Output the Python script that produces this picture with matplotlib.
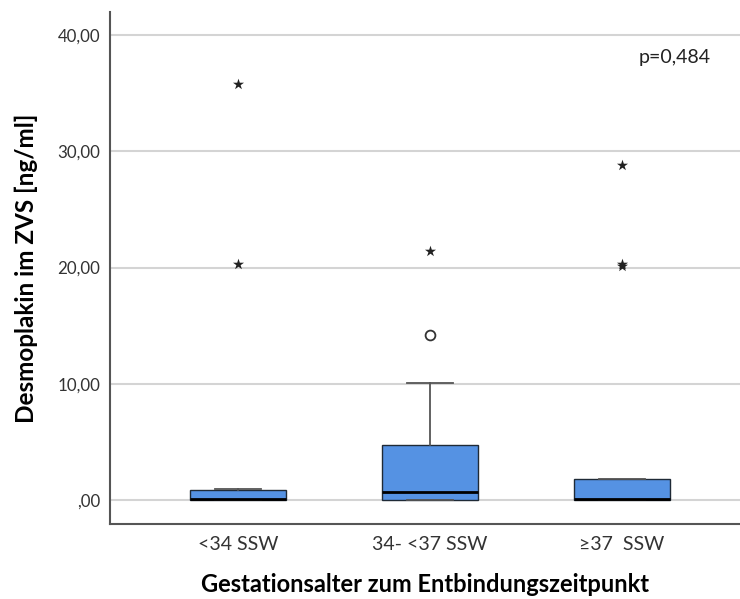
import matplotlib
matplotlib.use("Agg")
import matplotlib.pyplot as plt

plt.rcParams['font.family'] = ['Lato', 'DejaVu Sans']

# Gruppen und Boxplot-Kennwerte
groups = ['<34 SSW', '34- <37 SSW', '≥37  SSW']
q1 = [0.0, 0.0, 0.0]
median = [0.05, 0.7, 0.05]
q3 = [0.85, 4.75, 1.8]
whislo = [0.0, 0.0, 0.0]
whishi = [0.95, 10.05, 1.85]

# Ausreisser: Sterne = extreme Werte, Kreise = milde Ausreisser
extreme = [[35.8, 20.3], [21.4], [28.8, 20.1, 20.3]]
mild = [[], [14.2], []]

yticks = [0, 10, 20, 30, 40]
ytick_labels = [',00', '10,00', '20,00', '30,00', '40,00']

fig = plt.figure(figsize=(7.40, 5.99), dpi=100)
ax = fig.add_axes([110 / 740, 1 - 524 / 599, 1 - 110 / 740, (524 - 12) / 599])

stats = []
for i in range(len(groups)):
    stats.append({'label': groups[i], 'q1': q1[i], 'med': median[i], 'q3': q3[i],
                  'whislo': whislo[i], 'whishi': whishi[i], 'fliers': []})

ax.bxp(stats, positions=[1, 2, 3], widths=0.5, patch_artist=True, showfliers=False,
       boxprops=dict(facecolor='#5592e3', edgecolor='#1f2a36', linewidth=1.0),
       medianprops=dict(color='black', linewidth=2.0),
       whiskerprops=dict(color='#555555', linewidth=1.3),
       capprops=dict(color='#555555', linewidth=1.3),
       capwidths=0.24, zorder=3)

for i in range(len(groups)):
    if extreme[i]:
        ax.scatter([i + 1] * len(extreme[i]), extreme[i], marker='*', s=70,
                   color='#222222', linewidths=0, zorder=4)
    if mild[i]:
        ax.scatter([i + 1] * len(mild[i]), mild[i], marker='o', s=50,
                   facecolor='white', edgecolor='#333333', linewidths=1.3, zorder=4)

ax.set_xlim(1 - 128 / 192, 3 + 118 / 192)
ax.set_ylim(-2.06, 41.98)
ax.set_yticks(yticks)
ax.set_yticklabels(ytick_labels)
ax.yaxis.grid(True, color='#d4d4d4', linewidth=1.5, zorder=0)
ax.set_axisbelow(True)
ax.tick_params(axis='both', length=0, labelsize=12.2, colors='#333333')
ax.tick_params(axis='y', pad=7)
ax.tick_params(axis='x', pad=9, labelsize=14)

for s in ['top', 'right']:
    ax.spines[s].set_visible(False)
for s in ['left', 'bottom']:
    ax.spines[s].set_color('#555555')
    ax.spines[s].set_linewidth(1.5)

ax.set_xlabel('Gestationsalter zum Entbindungszeitpunkt', fontsize=17,
              fontweight='bold', labelpad=14)
ax.set_ylabel('Desmoplakin im ZVS [ng/ml]', fontsize=17.5, fontweight='bold', labelpad=14)

ax.text(3.276, 38.1, 'p=0,484', fontsize=14, ha='center', va='center', color='#222222')

fig.savefig('out.png', dpi=100)
